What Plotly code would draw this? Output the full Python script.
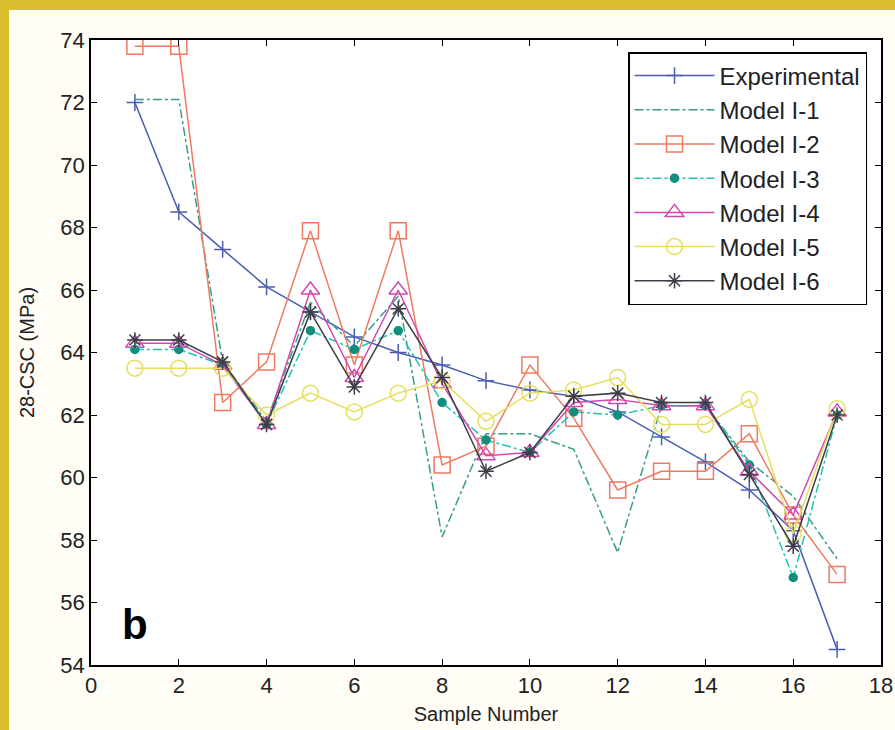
import plotly.graph_objects as go

samples = list(range(1, 18))

experimental = [72.0, 68.5, 67.3, 66.1, 65.3, 64.5, 64.0, 63.6, 63.1, 62.8, 62.6, 62.1, 61.3, 60.5, 59.6, 58.3, 54.5]
model_i1 = [72.1, 72.1, 63.7, 61.8, 65.6, 64.2, 65.8, 58.1, 61.4, 61.4, 60.9, 57.6, 62.3, 62.3, 60.5, 59.4, 57.4]
model_i2 = [73.8, 73.8, 62.4, 63.7, 67.9, 63.6, 67.9, 60.4, 61.0, 63.6, 61.9, 59.6, 60.2, 60.2, 61.4, 58.8, 56.9]
model_i3 = [64.1, 64.1, 63.6, 61.7, 64.7, 64.1, 64.7, 62.4, 61.2, 60.8, 62.1, 62.0, 62.3, 62.3, 60.4, 56.8, 62.0]
model_i4 = [64.3, 64.3, 63.6, 61.7, 66.0, 63.2, 66.0, 63.0, 60.7, 60.8, 62.4, 62.5, 62.3, 62.3, 60.2, 58.8, 62.1]
model_i5 = [63.5, 63.5, 63.5, 62.0, 62.7, 62.1, 62.7, 63.1, 61.8, 62.7, 62.8, 63.2, 61.7, 61.7, 62.5, 58.2, 62.2]
model_i6 = [64.4, 64.4, 63.7, 61.7, 65.3, 62.9, 65.4, 63.2, 60.2, 60.8, 62.6, 62.7, 62.4, 62.4, 60.1, 57.8, 62.0]

x_ticks = list(range(0, 19, 2))
y_ticks = list(range(54, 75, 2))

FONT = "Liberation Sans, Arial, sans-serif"

series = [
    ("Experimental", experimental, "#4A5DB3", "solid", "cross-thin", 12, 1.5),
    ("Model I-1", model_i1, "#3A9C8A", "dashdot", None, 0, 1.5),
    ("Model I-2", model_i2, "#EE7A60", "solid", "square-open", 16, 1.5),
    ("Model I-3", model_i3, "#22C2B0", "dashdot", "circle", 8, 1.5),
    ("Model I-4", model_i4, "#D348AE", "solid", "triangle-up-open", 16, 1.5),
    ("Model I-5", model_i5, "#E6DE5C", "solid", "circle-open", 16, 1.5),
    ("Model I-6", model_i6, "#3E3E4A", "solid", "asterisk-open", 13, 1.5),
]

fig = go.Figure()
for i, (name, vals, color, dash, sym, size, lw) in enumerate(series):
    if sym is None:
        mode = "lines"
        marker = None
    else:
        mode = "lines+markers"
        mcolor = "#128E7E" if name == "Model I-3" else color
        marker = dict(symbol=sym, size=size, color=mcolor,
                      line=dict(color=mcolor, width=1.5))
    fig.add_trace(go.Scatter(
        x=samples, y=vals, name=name, mode=mode,
        line=dict(color=color, width=lw, dash=dash),
        marker=marker, legendgroup=f"g{i}",
    ))

fig.add_annotation(x=1.0, y=55.3, text="<b>b</b>", showarrow=False,
                   xref="x", yref="y", font=dict(size=42, color="black", family=FONT))

L, R, T, B = 91, 14, 40, 65

# yellow frame strips on left and top, positioned in pixels from paper edges
fig.add_shape(type="rect", xref="paper", yref="paper", xsizemode="pixel", ysizemode="pixel",
              xanchor=0, yanchor=1, x0=-L, x1=-L + 9, y0=T, y1=-(730 - T),
              fillcolor="#D8BE2C", line=dict(width=0), layer="below")
fig.add_shape(type="rect", xref="paper", yref="paper", xsizemode="pixel", ysizemode="pixel",
              xanchor=0, yanchor=1, x0=-L, x1=895 - L, y0=T, y1=T - 10,
              fillcolor="#D8BE2C", line=dict(width=0), layer="below")

axis_common = dict(
    showline=True, linecolor="black", linewidth=1.5, mirror="ticks",
    ticks="inside", ticklen=6, tickwidth=1, tickcolor="black",
    showgrid=False, zeroline=False, automargin=False,
    tickfont=dict(size=22, color="#222", family=FONT),
)

fig.update_layout(
    width=895, height=730, autosize=False,
    margin=dict(l=L, r=R, t=T, b=B, pad=0),
    paper_bgcolor="#FFFDF5", plot_bgcolor="white",
    font=dict(family=FONT, color="#222"),
    xaxis=dict(range=[0, 18], tickvals=x_ticks, title=dict(text="Sample Number", font=dict(size=20), standoff=10), **axis_common),
    yaxis=dict(range=[54, 74], tickvals=y_ticks, title=dict(text="28-CSC (MPa)", font=dict(size=20), standoff=20), **axis_common),
    legend=dict(x=(628 - L) / 790, y=1 - 12 / 625, xanchor="left", yanchor="top",
                bgcolor="white", bordercolor="black", borderwidth=1.5,
                font=dict(size=24, color="#222", family=FONT),
                tracegroupgap=0, itemwidth=80),
    showlegend=True,
)

fig.write_html("out.html", config={"responsive": False})
